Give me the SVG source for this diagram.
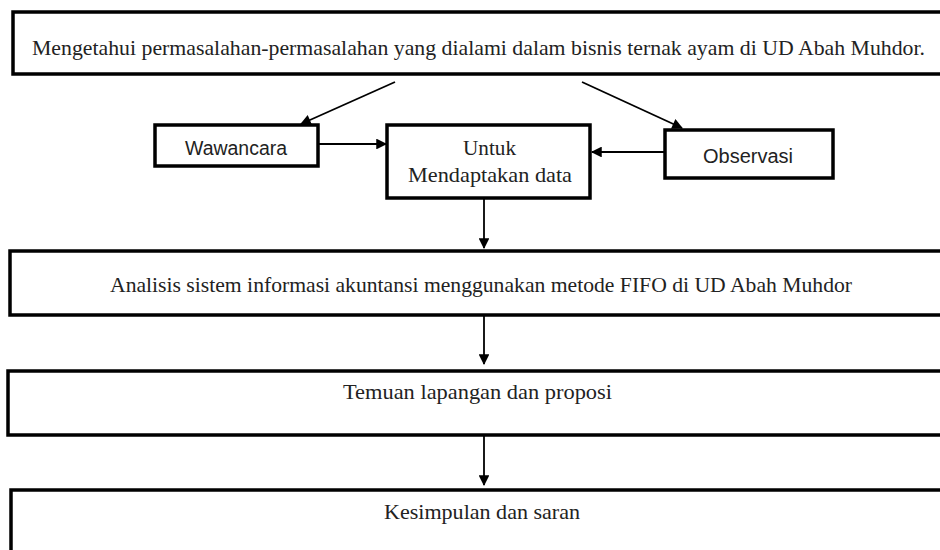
<svg xmlns="http://www.w3.org/2000/svg" width="940" height="550" viewBox="0 0 940 550">
<style>
.box{fill:#fff;stroke:#000;stroke-width:3.5}
.serif{font-family:"Liberation Serif","DejaVu Serif",serif;font-size:22px;fill:#222}
.sans{font-family:"Liberation Sans","DejaVu Sans",sans-serif;font-size:20px;fill:#222}
.conn{stroke:#000;stroke-width:1.8;fill:none;marker-end:url(#ah)}
</style>
<defs>
<marker id="ah" viewBox="0 0 10 10" refX="9" refY="5" markerWidth="6.5" markerHeight="6" markerUnits="strokeWidth" orient="auto">
<path d="M0,0 L10,5 L0,10 Z" fill="#000"/>
</marker>
</defs>
<rect width="940" height="550" fill="#fff"/>
<g id="n-top">
<rect class="box" x="13" y="12" width="940" height="62"/>
<text class="serif" x="32" y="55" textLength="893" lengthAdjust="spacingAndGlyphs">Mengetahui permasalahan-permasalahan yang dialami dalam bisnis ternak ayam di UD Abah Muhdor.</text>
</g>
<g id="n-wawancara">
<rect class="box" x="155" y="125" width="163" height="41"/>
<text class="sans" x="185" y="155" textLength="102" lengthAdjust="spacingAndGlyphs">Wawancara</text>
</g>
<g id="n-untuk">
<rect class="box" x="387" y="125" width="203" height="73"/>
<text class="serif" x="463" y="155" textLength="53" lengthAdjust="spacingAndGlyphs">Untuk</text>
<text class="serif" x="408" y="182" textLength="164" lengthAdjust="spacingAndGlyphs">Mendaptakan data</text>
</g>
<g id="n-observasi">
<rect class="box" x="665" y="130" width="168" height="48"/>
<text class="sans" x="703" y="163" textLength="90" lengthAdjust="spacingAndGlyphs">Observasi</text>
</g>
<g id="n-analisis">
<rect class="box" x="10" y="251" width="945" height="64"/>
<text class="serif" x="110" y="292" textLength="742" lengthAdjust="spacingAndGlyphs">Analisis sistem informasi akuntansi menggunakan metode FIFO di UD Abah Muhdor</text>
</g>
<g id="n-temuan">
<rect class="box" x="8" y="371" width="947" height="64"/>
<text class="serif" x="343" y="399" textLength="269" lengthAdjust="spacingAndGlyphs">Temuan lapangan dan proposi</text>
</g>
<g id="n-kesimpulan">
<rect class="box" x="11" y="490" width="944" height="80"/>
<text class="serif" x="384" y="519" textLength="196" lengthAdjust="spacingAndGlyphs">Kesimpulan dan saran</text>
</g>
<g id="connectors">
<line class="conn" x1="395" y1="82" x2="301" y2="124"/>
<line class="conn" x1="582" y1="82" x2="682" y2="128"/>
<line class="conn" x1="318" y1="144" x2="386" y2="144"/>
<line class="conn" x1="665" y1="152" x2="592" y2="152"/>
<line class="conn" x1="484" y1="198" x2="484" y2="248"/>
<line class="conn" x1="484" y1="315" x2="484" y2="364"/>
<line class="conn" x1="484" y1="435" x2="484" y2="485"/>
</g>
</svg>
